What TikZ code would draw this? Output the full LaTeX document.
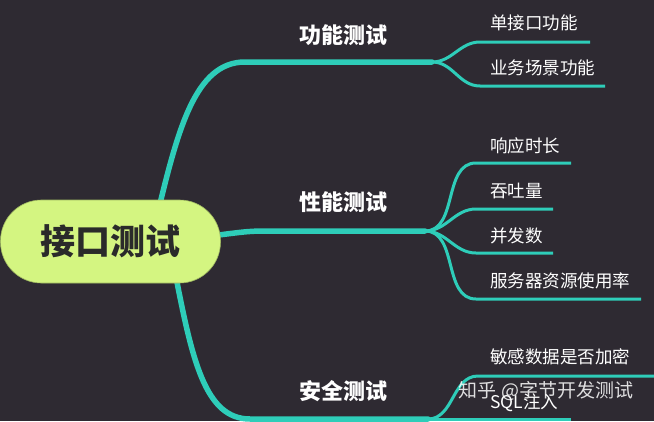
\documentclass[tikz,border=0pt]{standalone}
\usepackage{fontspec}
\setmainfont{Noto Sans CJK SC}
\usetikzlibrary{positioning}
\definecolor{Bg}{HTML}{2E2A32}
\definecolor{Teal}{HTML}{2ECDB9}
\definecolor{Lime}{HTML}{D4F581}
\definecolor{Ink}{HTML}{2A2A2A}
\pgfdeclarelayer{bg}
\pgfdeclarelayer{lines}
\pgfsetlayers{bg,lines,main}

\begin{document}
\begin{tikzpicture}[x=1pt, y=-1pt,
  topic/.style={font=\fontsize{22}{26}\selectfont\bfseries, text=white, inner sep=0pt},
  leaf/.style={font=\fontsize{17.5}{20}\selectfont, text=white, anchor=west, inner sep=0pt},
  trunk/.style={Teal, line width=5.5pt, line cap=round},
  twig/.style={Teal, line width=3pt}]
  \useasboundingbox (0,0) rectangle (654,421);
  \begin{pgfonlayer}{bg}
    \fill[Bg] (0,0) rectangle (654,421);
  \end{pgfonlayer}

  % centre topic
  \node[fill=Lime, draw=Lime!75!black, line width=0.6pt, rounded corners=41pt,
    minimum width=220pt, minimum height=83pt, text=Ink,
    font=\fontsize{35}{40}\selectfont\bfseries] (root) at (110.5,241.5) {接口测试};

  % sub topics
  \node[topic] (func) at (343,35) {功能测试};
  \node[topic] (perf) at (343,202) {性能测试};
  \node[topic] (safe) at (343,391) {安全测试};

  % split points
  \coordinate (s1) at (432,62);
  \coordinate (s2) at (425,231);
  \coordinate (s3) at (428,419);

  % leaves
  \node[leaf] (l11) at (490,23) {单接口功能};
  \node[leaf] (l12) at (490,68) {业务场景功能};
  \node[leaf] (l21) at (490,146) {响应时长};
  \node[leaf] (l22) at (490,191) {吞吐量};
  \node[leaf] (l23) at (490,236) {并发数};
  \node[leaf] (l24) at (490,281) {服务器资源使用率};
  \node[leaf] (l31) at (490,357) {敏感数据是否加密};
  \node[leaf] (l32) at (490,403) {SQL注入};

  % underline start / end
  \coordinate (u11) at (480,42);  \coordinate (e11) at (590,42);
  \coordinate (u12) at (480,86);  \coordinate (e12) at (605,86);
  \coordinate (u21) at (476,163); \coordinate (e21) at (571,163);
  \coordinate (u22) at (476,209); \coordinate (e22) at (553,209);
  \coordinate (u23) at (476,253); \coordinate (e23) at (553,253);
  \coordinate (u24) at (476,299); \coordinate (e24) at (641,299);
  \coordinate (u31) at (478,376); \coordinate (e31) at (654,376);
  \coordinate (u32) at (470,419); \coordinate (e32) at (571,419);

  \begin{pgfonlayer}{lines}
    \draw[trunk] ([xshift=47pt,yshift=-14pt]root.north)
      .. controls (178,130) and (195,62) .. (245,62) -- (s1);
    \draw[trunk] ([xshift=-6pt,yshift=6pt]root.east)
      .. controls (250,231) .. (275,231) -- (s2);
    \draw[trunk] ([xshift=64pt,yshift=14pt]root.south)
      .. controls (192,360) and (205,419) .. (250,419) -- (s3);

    \draw[twig] (s1) to[out=0, in=180] (u11) -- (e11);
    \draw[twig] (s1) to[out=0, in=180] (u12) -- (e12);
    \draw[twig] (s2) to[out=0, in=180] (u21) -- (e21);
    \draw[twig] (s2) to[out=0, in=180] (u22) -- (e22);
    \draw[twig] (s2) to[out=0, in=180] (u23) -- (e23);
    \draw[twig] (s2) to[out=0, in=180] (u24) -- (e24);
    \draw[twig] (s3) to[out=0, in=180] (u31) -- (e31);
    \draw[twig] (s3) to[out=0, in=180] (u32) -- (e32);
  \end{pgfonlayer}

  % watermark
  \node[font=\fontsize{19}{22}\selectfont, text=white, opacity=0.85] (mark)
    at (546,391) {知乎 @字节开发测试};
\end{tikzpicture}
\end{document}
